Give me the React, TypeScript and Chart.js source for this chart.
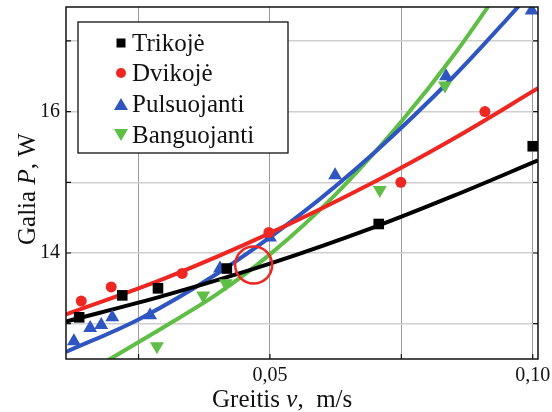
import React, { useEffect, useRef } from 'react';
import { Chart, registerables } from 'chart.js';

Chart.register(...registerables);

const FONT = '"Liberation Serif", "Times New Roman", serif';

// ---- data ----
const seriesNames = ['Trikojė', 'Dvikojė', 'Pulsuojanti', 'Banguojanti'];
const seriesColors = ['#000000', '#ee2722', '#2f55c0', '#5fbe45'];

const trikojeV = [0.0137, 0.0219, 0.0287, 0.0418, 0.0707, 0.1];
const trikojeP = [13.09, 13.4, 13.5, 13.78, 14.41, 15.51];

const dvikojeV = [0.0141, 0.0198, 0.0333, 0.0498, 0.0749, 0.0909];
const dvikojeP = [13.32, 13.52, 13.71, 14.29, 15.0, 16.0];

const pulsV = [0.0127, 0.0158, 0.0179, 0.02, 0.0272, 0.0405, 0.05, 0.0624, 0.0835, 0.0998];
const pulsP = [12.75, 12.94, 12.98, 13.09, 13.12, 13.78, 14.22, 15.1, 16.5, 17.43];

const bangV = [0.0285, 0.0373, 0.0416, 0.0709, 0.0833];
const bangP = [12.68, 13.4, 13.57, 14.89, 16.37];

// fitted curves
const trikojeFitV = [0.0112, 0.03, 0.05, 0.07, 0.085, 0.101];
const trikojeFitP = [13.03, 13.4, 13.85, 14.37, 14.81, 15.31];

const dvikojeFitV = [0.0112, 0.03, 0.05, 0.07, 0.085, 0.101];
const dvikojeFitP = [13.13, 13.64, 14.28, 15.01, 15.62, 16.33];

const pulsFitV = [0.0112, 0.025, 0.04, 0.055, 0.07, 0.085, 0.095, 0.101];
const pulsFitP = [12.6, 13.06, 13.71, 14.5, 15.43, 16.5, 17.3, 17.8];

const bangFitV = [0.0112, 0.0196, 0.03, 0.04, 0.05, 0.0625, 0.075, 0.085, 0.097];
const bangFitP = [12.12, 12.5, 12.96, 13.42, 13.98, 14.83, 15.86, 16.8, 18.08];

// highlighted intersection (red ring)
const ringV = [0.0469];
const ringP = [13.83];

// axes
const xMin = 0.0112;
const xMax = 0.101;
const yMin = 12.5;
const yMax = 17.48;
const xTickValues = [0.025, 0.05, 0.075, 0.1];
const xTickLabels = ['', '0,05', '', '0,10'];
const yTickValues = [13, 14, 15, 16, 17];
const yTickLabels = ['', '14', '', '16', ''];

const toXY = (xs: number[], ys: number[]) => xs.map((x, i) => ({ x, y: ys[i] }));

function drawMarker(ctx: CanvasRenderingContext2D, kind: number, x: number, y: number, s: number, color: string) {
  ctx.save();
  ctx.fillStyle = color;
  ctx.beginPath();
  if (kind === 0) {
    ctx.rect(x - s / 2, y - s / 2, s, s);
  } else if (kind === 1) {
    ctx.arc(x, y, s / 2, 0, Math.PI * 2);
  } else if (kind === 2) {
    const h = s * 0.87;
    ctx.moveTo(x, y - h / 2);
    ctx.lineTo(x + s / 2, y + h / 2);
    ctx.lineTo(x - s / 2, y + h / 2);
    ctx.closePath();
  } else {
    const h = s * 0.87;
    ctx.moveTo(x, y + h / 2);
    ctx.lineTo(x + s / 2, y - h / 2);
    ctx.lineTo(x - s / 2, y - h / 2);
    ctx.closePath();
  }
  ctx.fill();
  ctx.restore();
}

function drawSegments(ctx: CanvasRenderingContext2D, segs: [string, boolean][], size: number) {
  let x = 0;
  for (const [t, it] of segs) {
    ctx.font = `${it ? 'italic ' : ''}${size}px ${FONT}`;
    ctx.fillText(t, x, 0);
    x += ctx.measureText(t).width;
  }
}

const decorPlugin = {
  id: 'decor',
  afterDraw(chart: any) {
    const { ctx, chartArea: a, scales } = chart;
    ctx.save();
    // frame
    ctx.strokeStyle = '#111';
    ctx.lineWidth = 1.5;
    ctx.strokeRect(a.left, a.top, a.right - a.left, a.bottom - a.top);
    // inward ticks
    ctx.lineWidth = 1.2;
    ctx.beginPath();
    for (const v of yTickValues) {
      const py = scales.y.getPixelForValue(v);
      ctx.moveTo(a.left, py);
      ctx.lineTo(a.left + 5, py);
      ctx.moveTo(a.right, py);
      ctx.lineTo(a.right - 5, py);
    }
    for (const v of xTickValues) {
      const px = scales.x.getPixelForValue(v);
      ctx.moveTo(px, a.bottom);
      ctx.lineTo(px, a.bottom - 5);
    }
    ctx.stroke();

    // legend box
    const bx = 78, by = 22, bw = 210, bh = 131;
    ctx.fillStyle = '#ffffff';
    ctx.fillRect(bx, by, bw, bh);
    ctx.strokeStyle = '#111';
    ctx.lineWidth = 1.3;
    ctx.strokeRect(bx, by, bw, bh);
    const rows = [43, 73, 104, 135];
    const sizes = [9, 10, 14, 14];
    ctx.textBaseline = 'middle';
    ctx.textAlign = 'left';
    ctx.font = `25px ${FONT}`;
    seriesNames.forEach((name, i) => {
      drawMarker(ctx, i, 121, rows[i], sizes[i], seriesColors[i]);
      ctx.fillStyle = '#111';
      ctx.fillText(name, 132, rows[i] + 1);
    });

    // axis titles
    ctx.fillStyle = '#111';
    ctx.textBaseline = 'alphabetic';
    ctx.save();
    ctx.translate(212, 407);
    drawSegments(ctx, [['Greitis ', false], ['v', true], [',  m/s', false]], 25);
    ctx.restore();
    ctx.save();
    ctx.translate(35, 245);
    ctx.rotate(-Math.PI / 2);
    drawSegments(ctx, [['Galia ', false], ['P', true], [', W', false]], 25);
    ctx.restore();
    ctx.restore();
  },
};

const zeroPad = (s: any) => {
  s.paddingTop = 0;
  s.paddingBottom = 0;
  s.paddingLeft = 0;
  s.paddingRight = 0;
};

export default function App() {
  const ref = useRef<HTMLCanvasElement>(null);
  useEffect(() => {
    const fit = (xs: number[], ys: number[], i: number, order: number) => ({
      type: 'line' as const,
      data: toXY(xs, ys),
      borderColor: seriesColors[i],
      backgroundColor: seriesColors[i],
      borderWidth: 4,
      pointRadius: 0,
      showLine: true,
      fill: false,
      cubicInterpolationMode: 'monotone' as const,
      order,
    });
    const marks = (xs: number[], ys: number[], i: number, style: string, r: number, rot: number, order: number) => ({
      type: 'scatter' as const,
      data: toXY(xs, ys),
      backgroundColor: seriesColors[i],
      borderColor: seriesColors[i],
      pointStyle: style,
      pointRadius: r,
      pointRotation: rot,
      pointBorderWidth: 0,
      showLine: false,
      order,
    });
    const chart = new Chart(ref.current as HTMLCanvasElement, {
      type: 'scatter',
      data: {
        datasets: [
          fit(trikojeFitV, trikojeFitP, 0, 10),
          fit(dvikojeFitV, dvikojeFitP, 1, 11),
          fit(pulsFitV, pulsFitP, 2, 12),
          fit(bangFitV, bangFitP, 3, 13),
          marks(trikojeV, trikojeP, 0, 'rect', 7.5, 0, 5),
          marks(dvikojeV, dvikojeP, 1, 'circle', 5.5, 0, 6),
          marks(pulsV, pulsP, 2, 'triangle', 8, 0, 7),
          marks(bangV, bangP, 3, 'triangle', 8, 180, 8),
          {
            type: 'scatter' as const,
            data: toXY(ringV, ringP),
            pointStyle: 'circle',
            pointRadius: 18.5,
            backgroundColor: 'rgba(0,0,0,0)',
            borderColor: '#ee2722',
            pointBorderWidth: 2.5,
            order: 0,
          },
        ] as any,
      },
      options: {
        responsive: false,
        animation: false,
        devicePixelRatio: 1,
        layout: { autoPadding: false, padding: { top: 7, right: 14, left: 0, bottom: 0 } },
        plugins: { legend: { display: false }, tooltip: { enabled: false } },
        scales: {
          x: {
            type: 'linear',
            min: xMin,
            max: xMax,
            afterBuildTicks: (s: any) => {
              s.ticks = xTickValues.map((v) => ({ value: v }));
            },
            afterFit: (s: any) => {
              s.height = 53;
              zeroPad(s);
            },
            ticks: {
              autoSkip: false,
              maxRotation: 0,
              padding: 5,
              color: '#111',
              font: { family: FONT, size: 20 },
              callback: (_v: any, i: number) => xTickLabels[i],
            },
            grid: { color: '#9a9a9a', lineWidth: 1, drawTicks: false },
            border: { display: false },
          },
          y: {
            type: 'linear',
            min: yMin,
            max: yMax,
            afterBuildTicks: (s: any) => {
              s.ticks = yTickValues.map((v) => ({ value: v }));
            },
            afterFit: (s: any) => {
              s.width = 66;
              zeroPad(s);
            },
            ticks: {
              autoSkip: false,
              padding: 6,
              color: '#111',
              font: { family: FONT, size: 20 },
              callback: (_v: any, i: number) => yTickLabels[i],
            },
            grid: { color: '#cfcfcf', lineWidth: 1.5, drawTicks: false },
            border: { display: false },
          },
        },
      } as any,
      plugins: [decorPlugin],
    });
    return () => chart.destroy();
  }, []);
  return (
    <div style={{ position: 'absolute', left: 0, top: 0, width: 552, height: 412, background: '#fff' }}>
      <canvas ref={ref} width={552} height={412} style={{ display: 'block', width: 552, height: 412 }} />
    </div>
  );
}
